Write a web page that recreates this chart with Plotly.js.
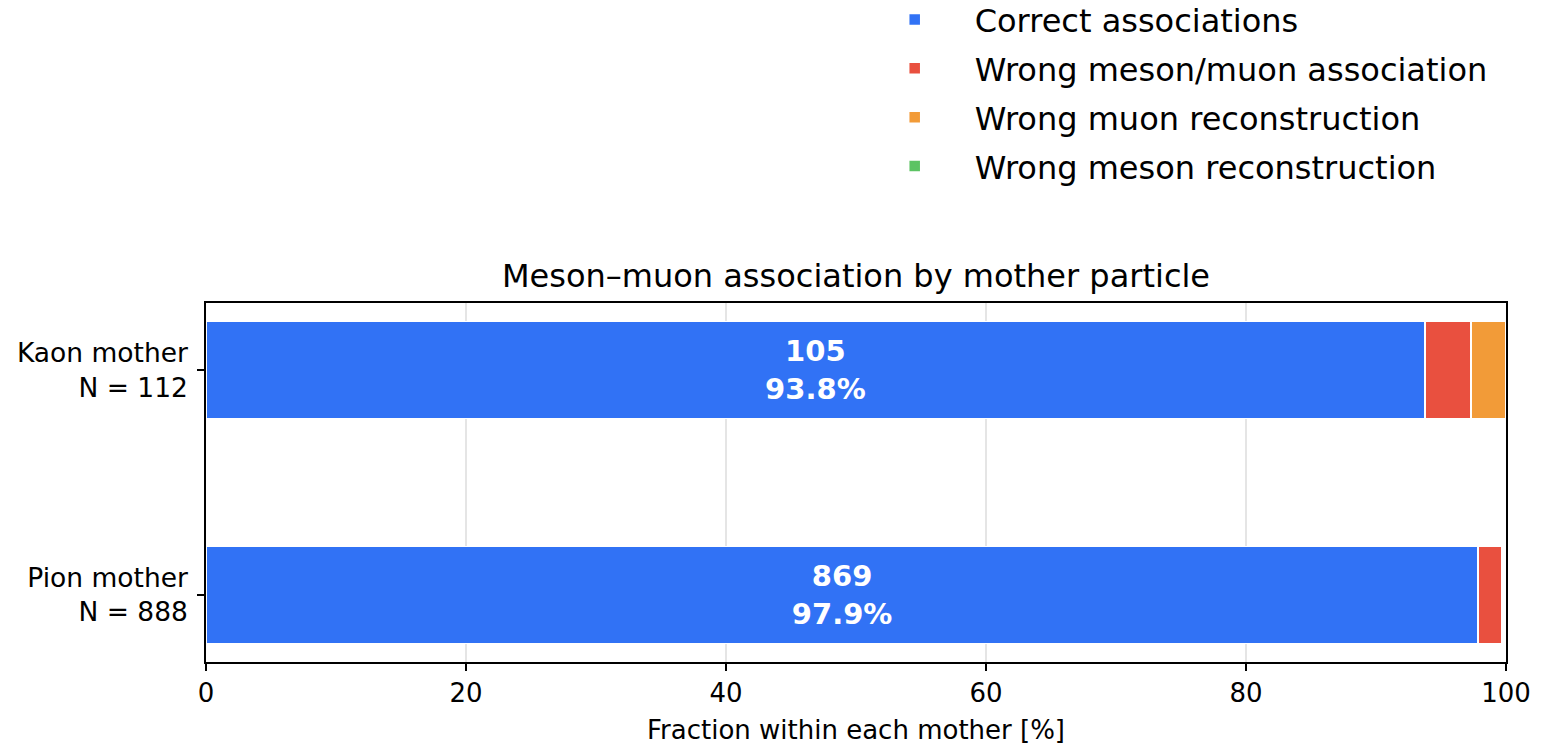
<!DOCTYPE html>
<html>
<head>
<meta charset="utf-8">
<script src="https://cdn.plot.ly/plotly-3.0.1.min.js"></script>
<style>html,body{margin:0;padding:0;background:#fff;}#chart{width:1545px;height:745px;}</style>
</head>
<body>
<div id="chart"></div>
<script>
// Data
const mothers = ["Kaon mother", "Pion mother"];
const totals = [112, 888];
const seriesNames = ["Correct associations", "Wrong meson/muon association", "Wrong muon reconstruction", "Wrong meson reconstruction"];
const correct = [105, 869];
const wrongAssoc = [4, 16];
const wrongMuon = [3, 0];
const wrongMeson = [0, 0];
const colors = ["#3172F5", "#E9503F", "#F29B38", "#5CC363"];

const cats = mothers.map((m, i) => m + "<br>N = " + totals[i]);
const pct = arr => arr.map((v, i) => v / totals[i] * 100);

const counts = [correct, wrongAssoc, wrongMuon, wrongMeson];
const traces = counts.map((arr, k) => {
  const p = pct(arr);
  const t = {
    type: "bar",
    orientation: "h",
    name: seriesNames[k],
    legendgroup: "g" + k,
    y: cats,
    x: p,
    marker: {color: colors[k], line: {color: "#ffffff", width: 1.5}},
    hoverinfo: "x+name"
  };
  if (k === 0) {
    t.text = arr.map((v, i) => v + "<br>" + p[i].toFixed(1) + "%");
    t.textposition = "inside";
    t.insidetextanchor = "middle";
    t.textfont = {family: "DejaVu Sans", size: 29, color: "#ffffff", weight: "bold"};
  } else {
    t.textposition = "none";
  }
  return t;
});

const layout = {
  width: 1545, height: 745,
  paper_bgcolor: "#ffffff", plot_bgcolor: "#ffffff",
  margin: {l: 206, r: 39, t: 303, b: 83, autoexpand: false},
  barmode: "stack",
  bargap: 0.57,
  font: {family: "DejaVu Sans", color: "#000000"},
  title: {
    text: "Meson–muon association by mother particle",
    font: {family: "DejaVu Sans", size: 32, color: "#000"},
    x: 0.5, xref: "paper", xanchor: "center",
    y: 1 - 276 / 745, yref: "container", yanchor: "middle"
  },
  xaxis: {
    range: [0, 100],
    tickvals: [0, 20, 40, 60, 80, 100],
    ticks: "outside", ticklen: 7, tickwidth: 1.5, tickcolor: "#000",
    tickfont: {size: 26, family: "DejaVu Sans"},
    showgrid: true, gridcolor: "rgba(180,180,180,0.35)", gridwidth: 1.5,
    showline: true, linecolor: "#000", linewidth: 1.8, mirror: true,
    zeroline: false,
    layer: "above traces",
    title: {text: "Fraction within each mother [%]", font: {size: 26, family: "DejaVu Sans"}, standoff: 16}
  },
  yaxis: {
    type: "category",
    categoryorder: "array", categoryarray: cats,
    range: [1.298, -0.298],
    ticks: "outside", ticklen: 7, tickwidth: 1.5, tickcolor: "#000",
    ticklabelstandoff: 4,
    tickfont: {size: 26.5, family: "DejaVu Sans"},
    showgrid: false,
    showline: true, linecolor: "#000", linewidth: 1.8, mirror: true,
    zeroline: false,
    layer: "above traces"
  },
  legend: {
    x: 0.499, xanchor: "left", xref: "paper",
    y: 1.866, yanchor: "top", yref: "paper",
    traceorder: "grouped",
    tracegroupgap: 4.3,
    font: {size: 32, family: "DejaVu Sans"},
    itemwidth: 110,
    bgcolor: "rgba(0,0,0,0)"
  },
  showlegend: true
};

Plotly.newPlot("chart", traces, layout, {displayModeBar: false, staticPlot: true});
</script>
</body>
</html>
